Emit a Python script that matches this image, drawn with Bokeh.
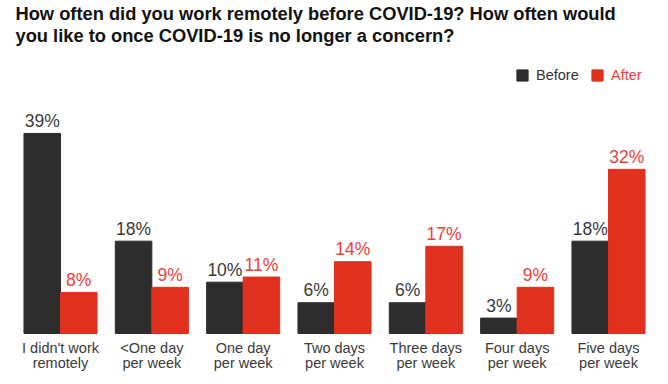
from bokeh.plotting import figure
from bokeh.models import Label, Legend, LegendItem, ColumnDataSource, Range1d
from bokeh.transform import dodge
from bokeh.core.properties import value
from bokeh.embed import file_html
from bokeh.resources import INLINE

categories = ["I didn't work\nremotely", "<One day\nper week", "One day\nper week",
              "Two days\nper week", "Three days\nper week", "Four days\nper week",
              "Five days\nper week"]
before = [39, 18, 10, 6, 6, 3, 18]
after = [8, 9, 11, 14, 17, 9, 32]
title_lines = ["How often did you work remotely before COVID-19? How often would",
               "you like to once COVID-19 is no longer a concern?"]

DARK = "#2d2d2d"
RED = "#e0301e"
FONT = "Liberation Sans"

pos = list(range(len(categories)))
line1 = [c.split("\n")[0] for c in categories]
line2 = [c.split("\n")[1] for c in categories]

src = ColumnDataSource(dict(
    pos=pos, before=before, after=after,
    before_lbl=[f"{v}%" for v in before], after_lbl=[f"{v}%" for v in after],
    zero=[0] * len(pos), l1=line1, l2=line2,
))

W, H = 668, 384
p = figure(width=W, height=H, x_range=Range1d(-0.657, 6.657),
           y_range=Range1d(-9.94, 64.91), output_backend="svg", toolbar_location=None,
           min_border=0, min_border_left=0, min_border_right=0,
           min_border_top=0, min_border_bottom=0)
p.axis.visible = False
p.grid.visible = False
p.outline_line_color = None
p.background_fill_color = "white"
p.border_fill_color = "white"

rb = p.vbar(x=dodge("pos", -0.2), top="before", width=0.4, source=src, color=DARK)
ra = p.vbar(x=dodge("pos", 0.2), top="after", width=0.4, source=src, color=RED)

p.text(x=dodge("pos", -0.2), y="before", text="before_lbl", source=src,
       text_align="center", text_baseline="alphabetic", y_offset=-12.5,
       text_font=value(FONT), text_font_size="17.5px", text_color="#3a3a3a")
p.text(x=dodge("pos", 0.2), y="after", text="after_lbl", source=src,
       text_align="center", text_baseline="alphabetic", y_offset=-12.5,
       text_font=value(FONT), text_font_size="17.5px", text_color="#e8423a")

p.text(x="pos", y="zero", text="l1", source=src, text_align="center",
       text_baseline="alphabetic", y_offset=14.5, text_font=value(FONT),
       text_font_size="14.5px", text_color="#3a3a3a")
p.text(x="pos", y="zero", text="l2", source=src, text_align="center",
       text_baseline="alphabetic", y_offset=29, text_font=value(FONT),
       text_font_size="14.5px", text_color="#3a3a3a")

for i, t in enumerate(title_lines):
    p.add_layout(Label(x=15, y=H - 13 - 21.7 * i, x_units="screen", y_units="screen",
                       text=t, text_font=FONT, text_font_style="bold",
                       text_font_size="18.3px", text_color="#111111",
                       text_baseline="alphabetic"))

for rend, name, col, xloc in [(rb, "Before", "#333333", 515), (ra, "After", "#e8423a", 590)]:
    lg = Legend(items=[LegendItem(label=name, renderers=[rend])],
                location=(xloc, H - 83), orientation="horizontal",
                glyph_width=14, glyph_height=14, label_standoff=7,
                label_text_font=FONT, label_text_font_size="14.5px",
                label_text_color=col, padding=0, margin=0, spacing=0,
                border_line_color=None, background_fill_alpha=0,
                label_height=14)
    p.add_layout(lg)

open("out.html", "w").write(file_html(p, INLINE))
